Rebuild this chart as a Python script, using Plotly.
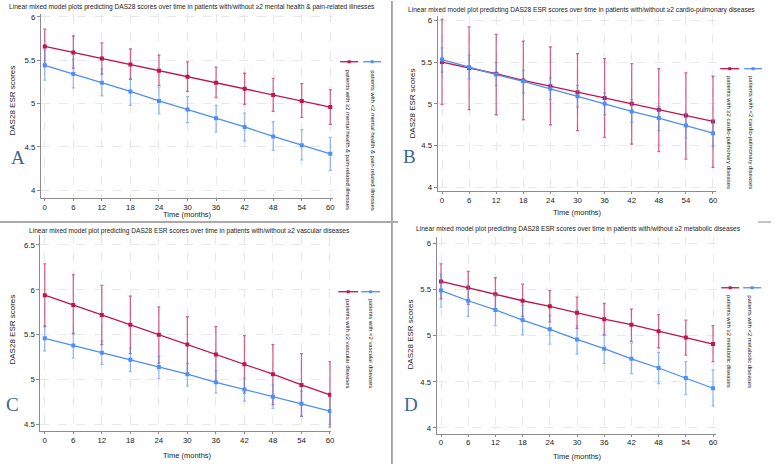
import plotly.graph_objects as go

W, H = 775, 465

months = [0, 6, 12, 18, 24, 30, 36, 42, 48, 54, 60]
x_ticks = months

# Panel A: mental health & pain-related illnesses
A_hi_mean = [5.66, 5.59, 5.52, 5.45, 5.38, 5.31, 5.24, 5.17, 5.10, 5.03, 4.96]
A_hi_lo   = [5.46, 5.41, 5.34, 5.28, 5.21, 5.14, 5.07, 4.99, 4.91, 4.84, 4.76]
A_hi_up   = [5.86, 5.78, 5.70, 5.63, 5.56, 5.48, 5.42, 5.35, 5.29, 5.23, 5.16]
A_lo_mean = [5.44, 5.34, 5.24, 5.14, 5.03, 4.93, 4.83, 4.73, 4.62, 4.52, 4.42]
A_lo_lo   = [5.27, 5.18, 5.09, 4.98, 4.88, 4.78, 4.67, 4.57, 4.46, 4.35, 4.23]
A_lo_up   = [5.62, 5.51, 5.40, 5.29, 5.19, 5.08, 4.98, 4.89, 4.79, 4.70, 4.61]

# Panel B: cardio-pulmonary diseases
B_hi_mean = [5.50, 5.43, 5.36, 5.28, 5.21, 5.14, 5.07, 5.00, 4.93, 4.86, 4.79]
B_hi_lo   = [4.99, 4.93, 4.87, 4.81, 4.75, 4.68, 4.60, 4.52, 4.43, 4.34, 4.24]
B_hi_up   = [6.01, 5.92, 5.83, 5.75, 5.68, 5.60, 5.54, 5.48, 5.42, 5.37, 5.33]
B_lo_mean = [5.53, 5.44, 5.35, 5.27, 5.18, 5.09, 5.00, 4.91, 4.83, 4.74, 4.65]
B_lo_lo   = [5.38, 5.30, 5.22, 5.13, 5.05, 4.96, 4.87, 4.78, 4.68, 4.59, 4.49]
B_lo_up   = [5.67, 5.58, 5.49, 5.40, 5.31, 5.22, 5.13, 5.05, 4.97, 4.89, 4.81]

# Panel C: vascular diseases
C_hi_mean = [5.94, 5.83, 5.72, 5.61, 5.50, 5.39, 5.28, 5.17, 5.06, 4.94, 4.83]
C_hi_lo   = [5.59, 5.51, 5.39, 5.29, 5.18, 5.07, 4.96, 4.85, 4.72, 4.59, 4.47]
C_hi_up   = [6.29, 6.17, 6.05, 5.93, 5.81, 5.70, 5.59, 5.49, 5.39, 5.29, 5.20]
C_lo_mean = [5.46, 5.38, 5.30, 5.22, 5.14, 5.06, 4.97, 4.89, 4.81, 4.73, 4.65]
C_lo_lo   = [5.32, 5.24, 5.17, 5.09, 5.01, 4.93, 4.85, 4.76, 4.68, 4.59, 4.50]
C_lo_up   = [5.60, 5.52, 5.43, 5.35, 5.26, 5.18, 5.10, 5.02, 4.94, 4.87, 4.80]

# Panel D: metabolic diseases
D_hi_mean = [5.59, 5.52, 5.45, 5.38, 5.32, 5.25, 5.18, 5.12, 5.05, 4.98, 4.91]
D_hi_lo   = [5.40, 5.34, 5.28, 5.21, 5.15, 5.08, 5.01, 4.94, 4.87, 4.79, 4.72]
D_hi_up   = [5.78, 5.70, 5.63, 5.56, 5.49, 5.42, 5.35, 5.29, 5.23, 5.17, 5.11]
D_lo_mean = [5.49, 5.38, 5.28, 5.17, 5.07, 4.96, 4.86, 4.75, 4.65, 4.54, 4.43]
D_lo_lo   = [5.31, 5.21, 5.11, 5.01, 4.91, 4.80, 4.70, 4.59, 4.48, 4.36, 4.24]
D_lo_up   = [5.67, 5.55, 5.44, 5.33, 5.22, 5.11, 5.01, 4.92, 4.82, 4.72, 4.63]

titles = [
    "Linear mixed model plots predicting DAS28 scores over time in patients with/without \u22652 mental health & pain-related illnesses",
    "Linear mixed model plot predicting DAS28 ESR scores over time in patients with/without \u22652 cardio-pulmonary diseases",
    "Linear mixed model plot predicting DAS28 ESR scores over time in patients with/without \u22652 vascular diseases",
    "Linear mixed model plot predicting DAS28 ESR scores over time in patients with/without \u22652 metabolic diseases",
]
legend_hi = [
    "patients with \u22652 mental health & pain-related illnesses",
    "patients with \u22652 cardio-pulmonary diseases",
    "patients with \u22652 vascular diseases",
    "patients with \u22652 metabolic diseases",
]
legend_lo = [
    "patients with <2 mental health & pain-related illnesses",
    "patients with <2 cardio-pulmonary diseases",
    "patients with <2 vascular diseases",
    "patients with <2 metabolic diseases",
]
panel_letters = ["A", "B", "C", "D"]
y_tick_sets = [
    [4, 4.5, 5, 5.5, 6],
    [4, 4.5, 5, 5.5, 6],
    [4.5, 5, 5.5, 6, 6.5],
    [4, 4.5, 5, 5.5, 6],
]
y_tick_text = [
    ["4", "4.5", "5", "5.5", "6"],
    ["4", "4.5", "5", "5.5", "6"],
    ["4.5", "5", "5.5", "6", "6.5"],
    ["4", "4.5", "5", "5.5", "6"],
]

series = [
    (A_hi_mean, A_hi_lo, A_hi_up, A_lo_mean, A_lo_lo, A_lo_up),
    (B_hi_mean, B_hi_lo, B_hi_up, B_lo_mean, B_lo_lo, B_lo_up),
    (C_hi_mean, C_hi_lo, C_hi_up, C_lo_mean, C_lo_lo, C_lo_up),
    (D_hi_mean, D_hi_lo, D_hi_up, D_lo_mean, D_lo_lo, D_lo_up),
]

# ---- layout geometry (pixels) ----
geom = [
    dict(box=(41, 335, 13, 198), xc=(45, 332), yc=(16, 6, 190, 4),
         title=(193, 6), ytitle=(13, 100), xtitle=(188, 214), letter=(18, 157),
         leg_y=61, leg_red=(342, 360), leg_blue=(365, 383), txt_red=350, txt_blue=375, txt_top=67),
    dict(box=(440, 720, 15, 191), xc=(444.3, 716.7), yc=(19.3, 6, 187.3, 4),
         title=(585, 9), ytitle=(415, 103), xtitle=(580, 212), letter=(412, 156),
         leg_y=68, leg_red=(724, 743), leg_blue=(748, 766), txt_red=733, txt_blue=755, txt_top=73),
    dict(box=(40.7, 333, 235, 432), xc=(45, 331.7), yc=(245, 6.5, 425.3, 4.5),
         title=(190, 231), ytitle=(13, 330), xtitle=(188, 456), letter=(13, 405),
         leg_y=292, leg_red=(340, 360), leg_blue=(363, 382), txt_red=350, txt_blue=373, txt_top=297),
    dict(box=(439, 720, 237, 435), xc=(443.3, 716.7), yc=(243.7, 6, 428.7, 4),
         title=(582, 229), ytitle=(413, 335), xtitle=(580, 457), letter=(413, 405),
         leg_y=288, leg_red=(725, 743), leg_blue=(747, 765), txt_red=733, txt_blue=754, txt_top=293),
]

RED = "#c0144c"
BLUE = "#4f8ef7"
RED_CI = "rgba(192,20,76,0.65)"
BLUE_CI = "rgba(79,142,247,0.6)"
AXIS_COL = "#8c8c8c"
FONT = "Liberation Sans, Arial, sans-serif"


def pxx(x):
    return x / W


def pxy(y):
    return 1 - y / H


fig = go.Figure()
layout = {}
annotations = []
shapes = []

for i, g in enumerate(geom):
    n = "" if i == 0 else str(i + 1)
    xa, ya = "x" + n, "y" + n
    hi_m, hi_l, hi_u, lo_m, lo_l, lo_u = series[i]
    L, R, T, B = g["box"]
    p0, p60 = g["xc"]
    sx = (p60 - p0) / 60.0
    xr = [(L - p0) / sx, (R - p0) / sx]
    q1, v1, q2, v2 = g["yc"]
    sy = (q2 - q1) / (v2 - v1)
    yr = [v1 + (B - q1) / sy, v1 + (T - q1) / sy]

    layout["xaxis" + n] = dict(
        domain=[pxx(L), pxx(R)], anchor=ya, range=xr,
        tickvals=x_ticks, ticktext=[str(t) for t in x_ticks],
        showline=True, linecolor=AXIS_COL, linewidth=1,
        ticks="outside", ticklen=2, tickcolor=AXIS_COL,
        ticklabelstandoff=-1,
        showgrid=True, gridcolor="#e8e8e8", griddash="dash", gridwidth=1,
        zeroline=False, tickfont=dict(size=7.8, color="#222", family=FONT),
        fixedrange=True,
    )
    layout["yaxis" + n] = dict(
        domain=[pxy(B), pxy(T)], anchor=xa, range=yr,
        tickvals=y_tick_sets[i], ticktext=y_tick_text[i],
        showline=True, linecolor=AXIS_COL, linewidth=1,
        ticks="outside", ticklen=3, tickcolor=AXIS_COL,
        showgrid=True, gridcolor="#e8e8e8", griddash="dash", gridwidth=1,
        zeroline=False, tickfont=dict(size=7.8, color="#222", family=FONT),
        fixedrange=True,
    )

    for mean, lo, up, col, cicol, name in [
        (hi_m, hi_l, hi_u, RED, RED_CI, legend_hi[i]),
        (lo_m, lo_l, lo_u, BLUE, BLUE_CI, legend_lo[i]),
    ]:
        fig.add_trace(go.Scatter(
            x=months, y=mean, xaxis=xa, yaxis=ya, mode="lines+markers",
            name=name, showlegend=False, hoverinfo="skip",
            line=dict(color=col, width=1.3),
            marker=dict(symbol="square", size=4, color=col),
            error_y=dict(type="data", symmetric=False,
                         array=[u - m for u, m in zip(up, mean)],
                         arrayminus=[m - l for m, l in zip(mean, lo)],
                         color=cicol, thickness=1.3, width=1.5),
        ))

    annotations.append(dict(
        text=titles[i], x=pxx(g["title"][0]), y=pxy(g["title"][1]),
        xref="paper", yref="paper", showarrow=False, xanchor="center", yanchor="middle",
        font=dict(size=6.6, color="#222", family=FONT)))
    annotations.append(dict(
        text="DAS28 ESR scores", x=pxx(g["ytitle"][0]), y=pxy(g["ytitle"][1]),
        xref="paper", yref="paper", showarrow=False, textangle=-90,
        xanchor="center", yanchor="middle",
        font=dict(size=8, color="#222", family=FONT)))
    annotations.append(dict(
        text="Time (months)", x=pxx(g["xtitle"][0]), y=pxy(g["xtitle"][1]),
        xref="paper", yref="paper", showarrow=False,
        xanchor="center", yanchor="middle",
        font=dict(size=7.5, color="#222", family=FONT)))
    annotations.append(dict(
        text=panel_letters[i], x=pxx(g["letter"][0]), y=pxy(g["letter"][1]),
        xref="paper", yref="paper", showarrow=False,
        xanchor="center", yanchor="middle",
        font=dict(size=19, color="#3a6790", family="Liberation Serif, Times New Roman, serif")))
    for (x0, x1), col, tx, txt in [
        (g["leg_red"], RED, g["txt_red"], legend_hi[i]),
        (g["leg_blue"], BLUE, g["txt_blue"], legend_lo[i]),
    ]:
        shapes.append(dict(type="line", xref="paper", yref="paper",
                           x0=pxx(x0), x1=pxx(x1), y0=pxy(g["leg_y"]), y1=pxy(g["leg_y"]),
                           line=dict(color=col, width=1.3)))
        xm = (x0 + x1) / 2
        shapes.append(dict(type="rect", xref="paper", yref="paper",
                           x0=pxx(xm - 1.5), x1=pxx(xm + 1.5),
                           y0=pxy(g["leg_y"] + 1.5), y1=pxy(g["leg_y"] - 1.5),
                           line=dict(width=0), fillcolor=col))
        annotations.append(dict(
            text=txt, x=pxx(tx), y=pxy(g["txt_top"]),
            xref="paper", yref="paper", showarrow=False, textangle=90,
            xanchor="center", yanchor="top",
            font=dict(size=5.9, color="#222", family=FONT)))

shapes.append(dict(type="line", xref="paper", yref="paper",
                   x0=pxx(394), x1=pxx(394), y0=0, y1=1,
                   line=dict(color="#555555", width=1)))
shapes.append(dict(type="line", xref="paper", yref="paper",
                   x0=0, x1=pxx(400), y0=pxy(222), y1=pxy(222),
                   line=dict(color="#aaaaaa", width=2)))
shapes.append(dict(type="line", xref="paper", yref="paper",
                   x0=pxx(762), x1=pxx(775), y0=pxy(222), y1=pxy(222),
                   line=dict(color="#888888", width=1)))

fig.update_layout(
    width=W, height=H,
    margin=dict(l=0, r=0, t=0, b=0),
    paper_bgcolor="white", plot_bgcolor="white",
    showlegend=False, hovermode=False,
    annotations=annotations, shapes=shapes,
    font=dict(family=FONT),
    **layout,
)

fig.write_html(
    "out.html",
    config={"displayModeBar": False, "staticPlot": True},
    post_script="document.body.style.margin='0';document.body.style.padding='0';document.body.style.overflow='hidden';",
)
